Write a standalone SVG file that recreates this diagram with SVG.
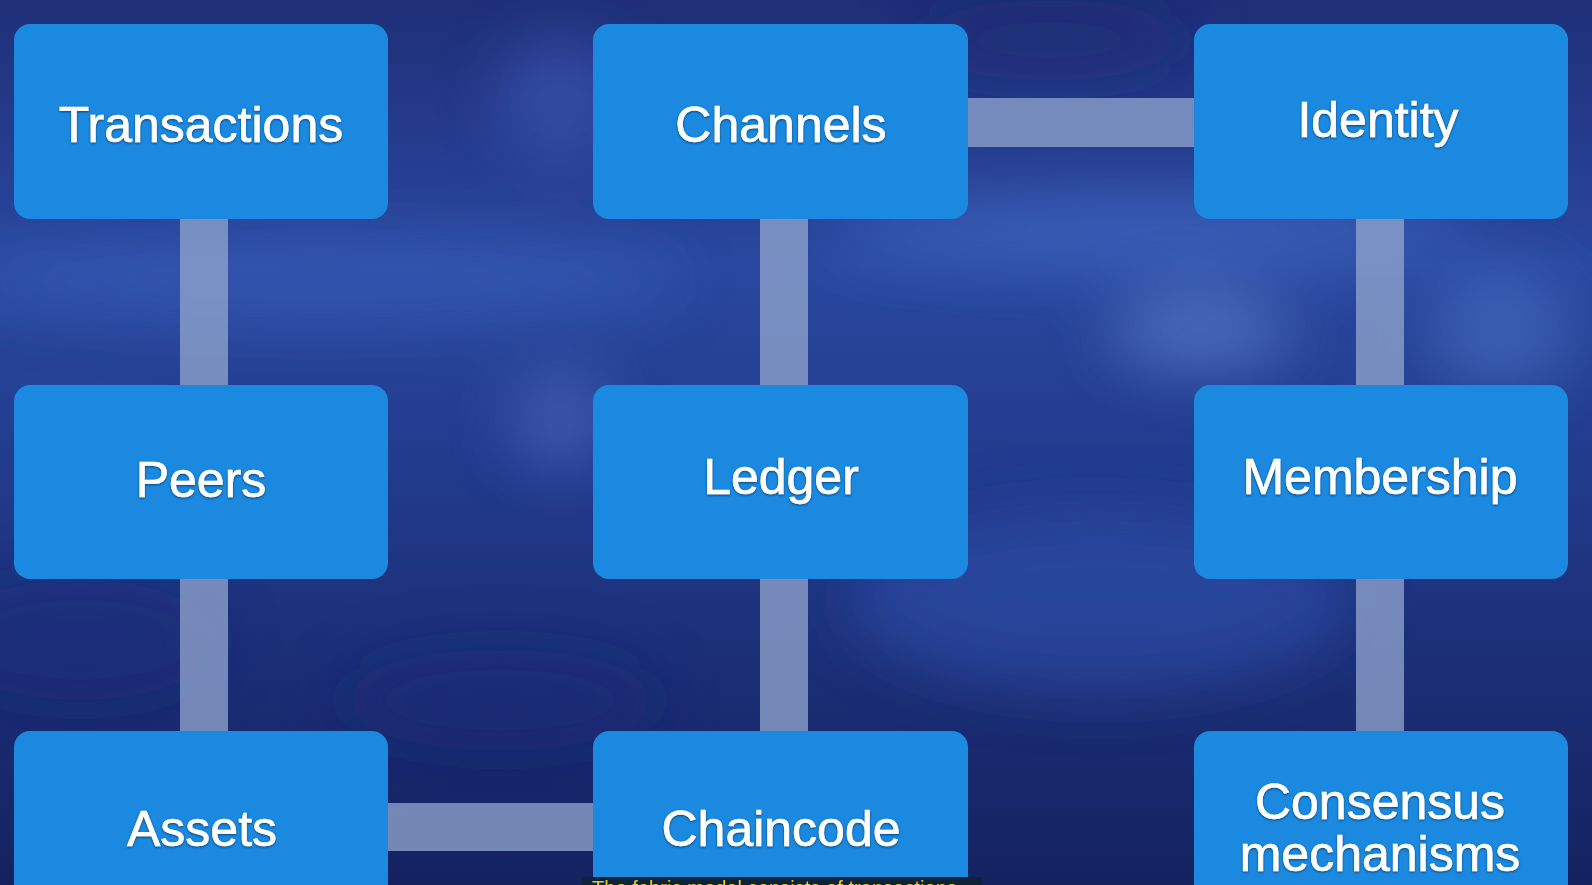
<svg xmlns="http://www.w3.org/2000/svg" width="1592" height="885" viewBox="0 0 1592 885">
<defs>
<linearGradient id="bg" x1="0" y1="0" x2="0" y2="1">
<stop offset="0" stop-color="#1f2f78"/>
<stop offset="0.3" stop-color="#2a48a0"/>
<stop offset="0.55" stop-color="#213a8a"/>
<stop offset="0.8" stop-color="#1a2c72"/>
<stop offset="1" stop-color="#142260"/>
</linearGradient>
<filter id="blur" x="-50%" y="-50%" width="200%" height="200%"><feGaussianBlur stdDeviation="30"/></filter>
<filter id="ts" x="-10%" y="-20%" width="120%" height="140%"><feDropShadow dx="0" dy="1" stdDeviation="1.2" flood-color="#05204a" flood-opacity="0.7"/></filter>
</defs>
<style>
.box{fill:#1a89df;}
.conn{fill:#8ea3cc;fill-opacity:0.78;}
.lbl{font-family:"Liberation Sans",Arial,Helvetica,sans-serif;font-size:50px;fill:#ffffff;stroke:#ffffff;stroke-width:0.6;text-anchor:middle;filter:url(#ts);}
.sub{font-family:"Liberation Sans",Arial,sans-serif;font-size:20px;fill:#e6cf1e;}
</style>
<rect width="1592" height="885" fill="url(#bg)"/>
<g id="background" filter="url(#blur)">
<ellipse cx="320" cy="280" rx="360" ry="40" fill="#3d64c0" opacity="0.5"/>
<ellipse cx="1150" cy="230" rx="320" ry="35" fill="#4a78d6" opacity="0.5"/>
<ellipse cx="1200" cy="330" rx="90" ry="40" fill="#6d8fd8" opacity="0.5"/>
<ellipse cx="1500" cy="330" rx="70" ry="60" fill="#4f78cc" opacity="0.5"/>
<ellipse cx="560" cy="100" rx="60" ry="60" fill="#3f60c0" opacity="0.5"/>
<ellipse cx="1100" cy="600" rx="250" ry="90" fill="#2f57b8" opacity="0.5"/>
<ellipse cx="80" cy="640" rx="140" ry="60" fill="#17287a" opacity="0.4"/>
<ellipse cx="500" cy="700" rx="160" ry="50" fill="#17287a" opacity="0.4"/>
<ellipse cx="1050" cy="40" rx="140" ry="40" fill="#1a2a70" opacity="0.4"/>
<ellipse cx="560" cy="420" rx="50" ry="50" fill="#5a78d0" opacity="0.45"/>
</g>
<g id="connectors">
<rect class="conn" x="180" y="219" width="48" height="166"/>
<rect class="conn" x="180" y="579" width="48" height="152"/>
<rect class="conn" x="760" y="219" width="48" height="166"/>
<rect class="conn" x="760" y="579" width="48" height="152"/>
<rect class="conn" x="1356" y="219" width="48" height="166"/>
<rect class="conn" x="1356" y="579" width="48" height="152"/>
<rect class="conn" x="968" y="98" width="226" height="49"/>
<rect class="conn" x="387" y="803" width="206" height="48"/>
</g>
<g id="transactions"><rect class="box" x="14" y="24" width="374" height="195" rx="16"/><text class="lbl" x="201" y="142">Transactions</text></g>
<g id="channels"><rect class="box" x="593" y="24" width="375" height="195" rx="16"/><text class="lbl" x="781" y="142">Channels</text></g>
<g id="identity"><rect class="box" x="1194" y="24" width="374" height="195" rx="16"/><text class="lbl" x="1378" y="137">Identity</text></g>
<g id="peers"><rect class="box" x="14" y="385" width="374" height="194" rx="16"/><text class="lbl" x="201" y="497">Peers</text></g>
<g id="ledger"><rect class="box" x="593" y="385" width="375" height="194" rx="16"/><text class="lbl" x="781" y="494">Ledger</text></g>
<g id="membership"><rect class="box" x="1194" y="385" width="374" height="194" rx="16"/><text class="lbl" x="1380" y="494">Membership</text></g>
<g id="assets"><rect class="box" x="14" y="731" width="374" height="190" rx="16"/><text class="lbl" x="202" y="846">Assets</text></g>
<g id="chaincode"><rect class="box" x="593" y="731" width="375" height="190" rx="16"/><text class="lbl" x="781" y="846">Chaincode</text></g>
<g id="consensus"><rect class="box" x="1194" y="731" width="374" height="190" rx="16"/><text class="lbl" x="1380" y="819">Consensus</text><text class="lbl" x="1380" y="871">mechanisms</text></g>
<g id="subtitle">
<rect x="582" y="877" width="400" height="8" fill="#0e2238"/>
<text class="sub" x="592" y="895" textLength="365" lengthAdjust="spacingAndGlyphs">The fabric model consists of transactions</text>
</g>
</svg>
